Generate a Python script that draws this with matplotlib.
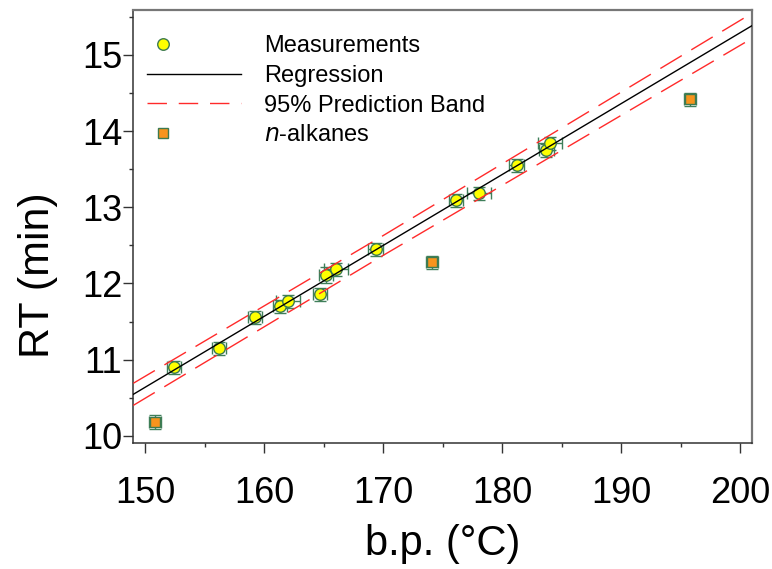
import matplotlib
matplotlib.use('Agg')
import matplotlib.pyplot as plt
from matplotlib.ticker import MultipleLocator
from matplotlib.lines import Line2D
from matplotlib.legend_handler import HandlerLine2D

plt.rcParams['font.family'] = ['Liberation Sans', 'DejaVu Sans']

# Measurements: boiling point (°C) vs retention time (min)
meas_bp = [152.4, 156.2, 159.2, 161.3, 162.0, 164.7, 165.2, 166.0, 169.35,
           176.1, 178.05, 181.2, 183.7, 184.0]
meas_rt = [10.90, 11.15, 11.555, 11.70, 11.765, 11.86, 12.11, 12.185, 12.45,
           13.09, 13.185, 13.55, 13.75, 13.84]
meas_bp_err = [0.6, 0.6, 0.6, 0.6, 1.0, 0.6, 0.6, 1.0, 0.6,
               0.6, 1.0, 0.6, 0.6, 1.0]
meas_rt_err = [0.085, 0.085, 0.085, 0.085, 0.085, 0.085, 0.11, 0.085, 0.085,
               0.085, 0.085, 0.085, 0.085, 0.085]

# n-alkanes
alk_bp = [150.8, 174.1, 195.8]
alk_rt = [10.186, 12.277, 14.416]
alk_bp_err = [0.5, 0.5, 0.5]
alk_rt_err = [0.09, 0.09, 0.09]

# regression line and 95% prediction band
reg_x = [149, 201]
reg_y = [10.545, 15.387]
band_x = [149, 170, 201]
band_upper = [10.69, 12.63, 15.55]
band_lower = [10.40, 12.37, 15.22]

err_color = '#3f7f5a'
edge_color = '#3d7a4f'

fig = plt.figure(figsize=(7.72, 5.69), dpi=100)
ax = fig.add_axes([0.1727, 0.222, 0.8018, 0.7604])

# error bars sit behind the markers
ax.errorbar(meas_bp, meas_rt, xerr=meas_bp_err, yerr=meas_rt_err, fmt='none',
            ecolor=err_color, elinewidth=1, capsize=4.5, capthick=1, zorder=1)
ax.errorbar(alk_bp, alk_rt, xerr=alk_bp_err, yerr=alk_rt_err, fmt='none',
            ecolor=err_color, elinewidth=1, capsize=4.5, capthick=1, zorder=1)

ax.plot(alk_bp, alk_rt, 's', ms=7, mfc='#f7941d', mec=edge_color, mew=1, zorder=2)
ax.plot(meas_bp, meas_rt, 'o', ms=8.3, mfc='#ffff00', mec=edge_color, mew=1, zorder=2)

ax.plot(reg_x, reg_y, color='black', lw=1.0, zorder=3)
ax.plot(band_x, band_upper, color='#ff2a2a', lw=1.0, dashes=(18, 8), zorder=3)
ax.plot(band_x, band_lower, color='#ff2a2a', lw=1.0, dashes=(18, 8), zorder=3)

ax.set_xlim(149, 201)
ax.set_ylim(9.91, 15.59)
ax.xaxis.set_major_locator(MultipleLocator(10))
ax.xaxis.set_minor_locator(MultipleLocator(5))
ax.yaxis.set_major_locator(MultipleLocator(1))
ax.yaxis.set_minor_locator(MultipleLocator(0.5))
ax.tick_params(which='major', length=7, width=1, labelsize=26, color='#333333')
ax.tick_params(which='minor', length=3, width=1, color='#333333')
ax.tick_params(axis='x', which='major', pad=17)
ax.tick_params(axis='y', which='major', pad=1)
ax.tick_params(top=False, right=False, which='both')

for side in ['left', 'bottom']:
    ax.spines[side].set_color('#333333')
    ax.spines[side].set_linewidth(1.1)
for side in ['top', 'right']:
    ax.spines[side].set_color('#777777')
    ax.spines[side].set_linewidth(1.6)

ax.set_xlabel('b.p. (°C)', fontsize=30)
ax.set_ylabel('RT (min)', fontsize=31)
ax.xaxis.set_label_coords(0.5, -0.188)
ax.yaxis.set_label_coords(-0.122, 0.3876)


class LeftMarker(HandlerLine2D):
    # put the single marker near the left end of the handle
    def get_xdata(self, legend, xdescent, ydescent, width, height, fontsize):
        xd = [-xdescent, -xdescent + 0.34 * width]
        return xd, [-xdescent + 0.17 * width]


h_meas = Line2D([], [], ls='none', marker='o', ms=8.3, mfc='#ffff00', mec=edge_color, mew=1)
h_reg = Line2D([], [], color='black', lw=1.0)
h_band = Line2D([], [], color='#ff2a2a', lw=1.0, dashes=(14, 8.5))
h_alk = Line2D([], [], ls='none', marker='s', ms=7, mfc='#f7941d', mec=edge_color, mew=1)

ax.legend([h_meas, h_reg, h_band, h_alk],
          ['Measurements', 'Regression', '95% Prediction Band', '$n$-alkanes'],
          loc='upper left', bbox_to_anchor=(0.022, 0.942), frameon=False,
          fontsize=17, handlelength=3.97, handletextpad=1.0, labelspacing=0.33,
          borderpad=0, borderaxespad=0,
          handler_map={h_meas: LeftMarker(), h_alk: LeftMarker()})

fig.savefig('out.png', dpi=100)
